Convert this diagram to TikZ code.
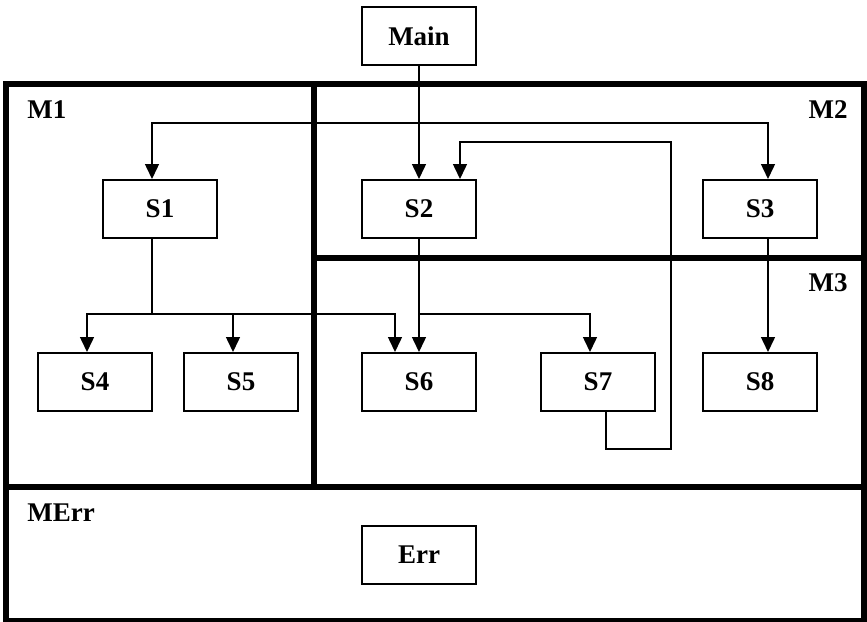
\documentclass[tikz,border=0pt]{standalone}
\usepackage{fontspec}
\setmainfont{Liberation Serif}
\usetikzlibrary{positioning,arrows.meta}

\begin{document}
\begin{tikzpicture}[x=0.5pt, y=-0.5pt,
  sbox/.style={draw, line width=1pt, shape=rectangle, minimum width=57pt, minimum height=29pt, inner sep=0pt, font=\fontsize{13.5}{16}\selectfont\bfseries},
  modlabel/.style={inner sep=0pt, font=\fontsize{13.5}{16}\selectfont\bfseries},
  frame/.style={line width=3.25pt},
  conn/.style={line width=0.75pt, -{Triangle[length=7.5pt, width=7pt]}},
  biconn/.style={line width=0.75pt, {Triangle[length=7.5pt, width=7pt]}-{Triangle[length=7.5pt, width=7pt]}},
  line/.style={line width=0.75pt}]
\useasboundingbox (0,0) rectangle (867,621);
% module frames
\draw[frame] (6,84) rectangle (864,621);
\draw[frame] (314,84) -- (314,487);
\draw[frame] (314,258) -- (864,258);
\draw[frame] (6,487) -- (864,487);
\node[modlabel, anchor=west] (m1) at (27,110) {M1};
\node[modlabel, anchor=east] (m2) at (848,110) {M2};
\node[modlabel, anchor=east] (m3) at (848,283) {M3};
\node[modlabel, anchor=west] (merr) at (27,513) {MErr};
% states
\node[sbox] (main) at (419,36) {Main};
\node[sbox] (s1) at (160,209) {S1};
\node[sbox] (s2) at (419,209) {S2};
\node[sbox] (s3) at (760,209) {S3};
\node[sbox] (s4) at (95,382) {S4};
\node[sbox] (s5) at (241,382) {S5};
\node[sbox] (s6) at (419,382) {S6};
\node[sbox] (s7) at (598,382) {S7};
\node[sbox] (s8) at (760,382) {S8};
\node[sbox] (err) at (419,555) {Err};
% connectors
\coordinate (top) at (419,123);
\coordinate (mid) at (152,314);
\draw[conn] (main) -- (s2);
\draw[biconn] ([xshift=-4pt]s1.north) |- (top) -| ([xshift=4pt]s3.north);
\draw[conn] ([xshift=4pt]s7.south) |- (671,449) -- (671,142) -| ([xshift=20.5pt]s2.north);
\draw[line] ([xshift=-4pt]s1.south) -- (mid);
\draw[conn] (mid) -| ([xshift=-4pt]s4.north);
\draw[conn] (mid) -| ([xshift=-4pt]s5.north);
\draw[conn] (mid) -| ([xshift=-12pt]s6.north);
\draw[conn] (s2) -- (s6);
\draw[conn] (s2.south |- mid) -| ([xshift=-4pt]s7.north);
\draw[conn] ([xshift=4pt]s3.south) -- ([xshift=4pt]s8.north);
\end{tikzpicture}
\end{document}
